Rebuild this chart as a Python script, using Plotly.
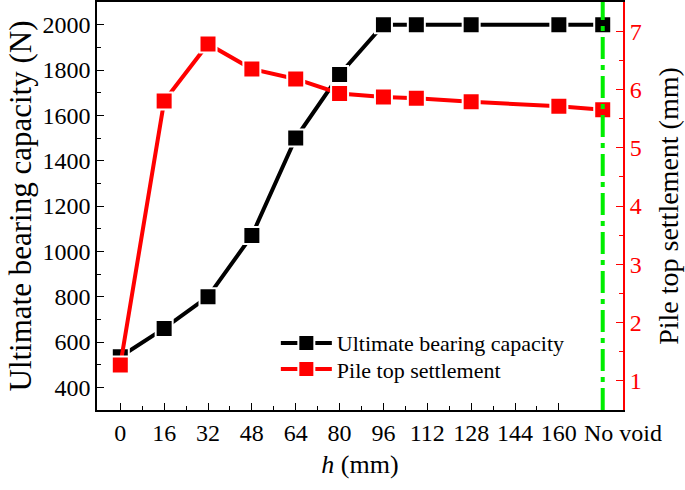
import plotly.graph_objects as go

# ---- data ----
h_bearing = [0, 16, 32, 48, 64, 80, 96, 108, 128, 160, 176]
bearing = [535, 660, 800, 1070, 1500, 1780, 2000, 2000, 2000, 2000, 2000]
h_settle = [0, 16, 32, 48, 64, 80, 96, 108, 128, 160, 176]
settlement = [1.27, 5.80, 6.78, 6.35, 6.18, 5.93, 5.87, 5.85, 5.79, 5.71, 5.65]
no_void_h = 176
x_tick_vals = [0, 16, 32, 48, 64, 80, 96, 112, 128, 144, 160, 183.4]
x_tick_text = ["0", "16", "32", "48", "64", "80", "96", "112", "128", "144", "160", "No void"]
x_minor_vals = [8, 24, 40, 56, 72, 88, 104, 120, 136, 152]

FONT = "Liberation Serif"

fig = go.Figure()
fig.add_trace(go.Scatter(
    x=h_bearing, y=bearing, name="Ultimate bearing capacity",
    mode="lines+markers", legend="legend",
    line=dict(color="black", width=4),
    marker=dict(symbol="square", size=17, color="black", line=dict(color="white", width=2)),
))
fig.add_trace(go.Scatter(
    x=h_settle, y=settlement, name="Pile top settlement", yaxis="y2",
    mode="lines+markers", legend="legend2",
    line=dict(color="#ff0000", width=4),
    marker=dict(symbol="square", size=17, color="#ff0000", line=dict(color="white", width=2)),
))

fig.add_shape(type="line", xref="x", yref="paper", x0=no_void_h, x1=no_void_h, y0=0, y1=1,
              line=dict(color="#00ee00", width=4, dash="22px,6px,5px,6px"), layer="above")

legend_common = dict(x=0.34, xanchor="left", yanchor="middle", bgcolor="rgba(0,0,0,0)",
                     font=dict(size=22, family=FONT), itemwidth=51)

fig.update_layout(
    width=685, height=490,
    margin=dict(l=97, r=62, t=2, b=80, autoexpand=False),
    plot_bgcolor="white", paper_bgcolor="white",
    font=dict(family=FONT, color="black", size=24),
    showlegend=True,
    legend=dict(y=0.164, **legend_common),
    legend2=dict(y=0.100, **legend_common),
    xaxis=dict(
        range=[-8.5, 183.4], tickmode="array", tickvals=x_tick_vals, ticktext=x_tick_text,
        ticks="inside", ticklen=7, tickwidth=1.3, tickcolor="black",
        minor=dict(tickmode="array", tickvals=x_minor_vals, ticks="inside", ticklen=4, tickcolor="black", tickwidth=1.3),
        showline=True, linecolor="black", linewidth=1.6, mirror=True,
        showgrid=False, zeroline=False, automargin=False,
        tickfont=dict(size=24, family=FONT),
        title=dict(text="<i>h</i> (mm)", font=dict(size=26, family=FONT), standoff=10),
    ),
    yaxis=dict(
        range=[300, 2100], tickmode="array", tickvals=list(range(400, 2001, 200)),
        ticks="inside", ticklen=7, tickwidth=1.3, tickcolor="black",
        minor=dict(dtick=100, tick0=300, ticks="inside", ticklen=4, tickcolor="black", tickwidth=1.3),
        showline=True, linecolor="black", linewidth=1.6,
        showgrid=False, zeroline=False, automargin=False,
        tickfont=dict(size=24, family=FONT),
        title=dict(text="\u00a0\u00a0\u00a0\u00a0Ultimate bearing capacity (N)", font=dict(size=31, family=FONT), standoff=2),
    ),
    yaxis2=dict(
        overlaying="y", side="right", range=[0.5, 7.5],
        tickmode="array", tickvals=[1, 2, 3, 4, 5, 6, 7],
        ticks="inside", ticklen=7, tickwidth=1.3, tickcolor="#ff0000",
        minor=dict(dtick=0.5, tick0=0.5, ticks="inside", ticklen=4, tickcolor="#ff0000", tickwidth=1.3),
        showline=True, linecolor="#ff0000", linewidth=2,
        showgrid=False, zeroline=False, automargin=False,
        tickfont=dict(size=24, color="#ff0000", family=FONT),
        title=dict(text="Pile top settlement (mm)", font=dict(size=28, color="black", family=FONT), standoff=18),
    ),
)

fig.write_html("out.html", config={"displayModeBar": False},
               post_script="document.body.style.margin='0';")
